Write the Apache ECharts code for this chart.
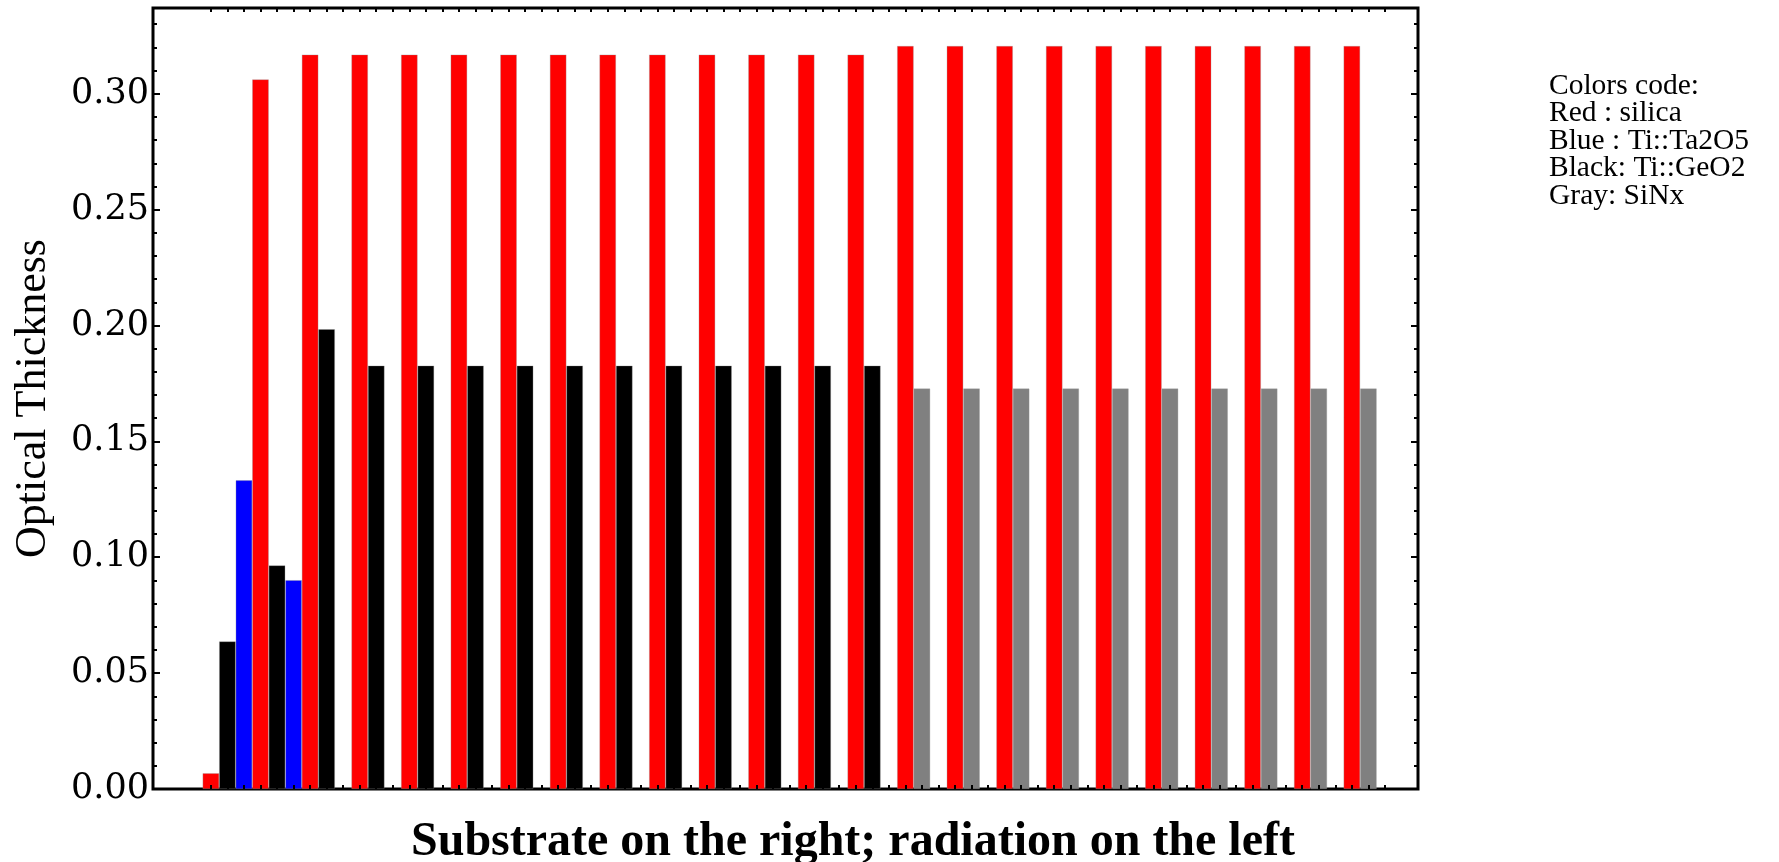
<!DOCTYPE html>
<html>
<head>
<meta charset="utf-8">
<script src="https://cdn.jsdelivr.net/npm/echarts@6/dist/echarts.min.js"></script>
<style>
  html, body { margin: 0; padding: 0; background: #fff; }
  #chart { width: 1779px; height: 862px; }
</style>
</head>
<body>
<div id="chart"></div>
<script>
// Layer stack: slot index counted from the radiation side, optical thickness per layer
const silicaSlots = [1, 4, 7, 10, 13, 16, 19, 22, 25, 28, 31, 34, 37, 40, 43, 46, 49, 52, 55, 58, 61, 64, 67, 70];
const silicaThickness = [0.0068, 0.3062, 0.3169, 0.3169, 0.3169, 0.3169, 0.3169, 0.3169, 0.3169, 0.3169, 0.3169, 0.3169, 0.3169, 0.3169,
                         0.3206, 0.3206, 0.3206, 0.3206, 0.3206, 0.3206, 0.3206, 0.3206, 0.3206, 0.3206];

const ta2o5Slots = [3, 6];
const ta2o5Thickness = [0.1332, 0.0901];

const geo2Slots = [2, 5, 8, 11, 14, 17, 20, 23, 26, 29, 32, 35, 38, 41];
const geo2Thickness = [0.0637, 0.0965, 0.1984, 0.1827, 0.1827, 0.1827, 0.1827, 0.1827, 0.1827, 0.1827, 0.1827, 0.1827, 0.1827, 0.1827];

const sinxSlots = [44, 47, 50, 53, 56, 59, 62, 65, 68, 71];
const sinxThickness = [0.1728, 0.1728, 0.1728, 0.1728, 0.1728, 0.1728, 0.1728, 0.1728, 0.1728, 0.1728];

const yMajorTicks = [0, 0.05, 0.10, 0.15, 0.20, 0.25, 0.30];
const yMinorTicks = [0.01, 0.02, 0.03, 0.04, 0.06, 0.07, 0.08, 0.09, 0.11, 0.12, 0.13, 0.14,
                     0.16, 0.17, 0.18, 0.19, 0.21, 0.22, 0.23, 0.24, 0.26, 0.27, 0.28, 0.29,
                     0.31, 0.32, 0.33];
const slotTickCount = 72;

const legendLines = ['Colors code:', 'Red : silica', 'Blue : Ti::Ta2O5', 'Black: Ti::GeO2', 'Gray: SiNx'];
const titleText = 'Substrate on the right; radiation on the left';
const yName = 'Optical Thickness';

// Axis ranges and layout
const xMin = -2.5, xMax = 74;
const yMin = 0, yMax = 0.337;
const W = 1779, H = 862;
const gridBox = { left: 153, right: 361, top: 8, bottom: 73 };
const slotPx = (W - gridBox.left - gridBox.right) / (xMax - xMin);

const slotTicks = [];
for (let i = 1; i <= slotTickCount; i++) slotTicks.push(i);

const pairs = (slots, vals) => slots.map((s, i) => [s, vals[i]]);

const serif = 'Liberation Serif, Times New Roman, serif';
const tickStyle = { color: '#000', width: 2 };

function xAxisDef(pos) {
  return {
    type: 'value', position: pos, min: xMin, max: xMax, z: 10,
    axisLine: { show: false, onZero: false },
    splitLine: { show: false },
    axisLabel: { show: false },
    axisTick: { show: true, inside: true, length: 4, customValues: slotTicks, lineStyle: tickStyle }
  };
}

function yAxisDef(pos, ticks, len, withLabels) {
  const ax = {
    type: 'value', position: pos, min: yMin, max: yMax, z: 10,
    axisLine: { show: false, onZero: false },
    splitLine: { show: false },
    axisTick: { show: true, inside: true, length: len, customValues: ticks, lineStyle: tickStyle },
    axisLabel: { show: false }
  };
  if (withLabels) {
    ax.axisLabel = {
      show: true, customValues: yMajorTicks, margin: 4,
      formatter: v => v.toFixed(2),
      fontFamily: 'DejaVu Serif', fontSize: 35, color: '#000'
    };
    ax.name = yName;
    ax.nameLocation = 'middle';
    ax.nameRotate = 90;
    ax.nameGap = 98;
    ax.nameTextStyle = { fontFamily: serif, fontSize: 44, color: '#000' };
  }
  return ax;
}

const barBorder = { borderColor: 'rgba(150,150,150,0.55)', borderWidth: 0.6 };

function barSeries(name, color, data) {
  return {
    name, type: 'bar', xAxisIndex: 0, yAxisIndex: 0,
    data, barWidth: slotPx, barGap: '-100%',
    itemStyle: Object.assign({ color }, barBorder),
    animation: false
  };
}

const chart = echarts.init(document.getElementById('chart'), null, { renderer: 'canvas' });

chart.setOption({
  backgroundColor: '#fff',
  animation: false,
  title: {
    text: titleText, left: 411, top: 819, padding: 0,
    textStyle: { fontFamily: serif, fontWeight: 'bold', fontSize: 48, color: '#000' }
  },
  grid: Object.assign({ show: true, borderColor: '#000', borderWidth: 3, backgroundColor: 'transparent', containLabel: false }, gridBox),
  xAxis: [xAxisDef('bottom'), xAxisDef('top')],
  yAxis: [
    yAxisDef('left', yMajorTicks, 7, true),
    yAxisDef('left', yMinorTicks, 4, false),
    yAxisDef('right', yMajorTicks, 7, false),
    yAxisDef('right', yMinorTicks, 4, false)
  ],
  series: [
    barSeries('silica', '#ff0000', pairs(silicaSlots, silicaThickness)),
    barSeries('Ti::Ta2O5', '#0000ff', pairs(ta2o5Slots, ta2o5Thickness)),
    barSeries('Ti::GeO2', '#000000', pairs(geo2Slots, geo2Thickness)),
    barSeries('SiNx', '#808080', pairs(sinxSlots, sinxThickness))
  ],
  graphic: [{
    type: 'text', left: 1549, top: 71,
    style: {
      text: legendLines.join('\n'),
      font: '29.5px ' + serif, fill: '#000', lineHeight: 27.5
    }
  }]
});
</script>
</body>
</html>
